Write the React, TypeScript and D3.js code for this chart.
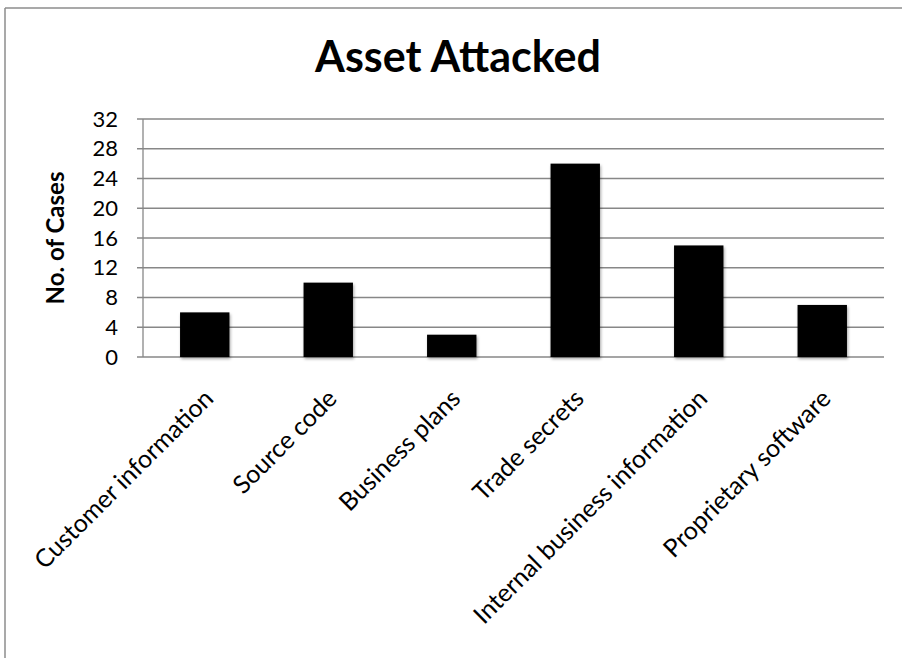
import React from 'react';
import * as d3 from 'd3';

const categories = [
  'Customer information',
  'Source code',
  'Business plans',
  'Trade secrets',
  'Internal business information',
  'Proprietary software',
];
const cases = [6, 10, 3, 26, 15, 7];
const yTicks = [0, 4, 8, 12, 16, 20, 24, 28, 32];

const W = 902;
const H = 658;
const margin = { top: 119, right: 18, bottom: 301, left: 143 };
const FONT = 'Lato, "Open Sans", sans-serif';

const App = () => {
  const innerW = W - margin.left - margin.right;
  const innerH = H - margin.top - margin.bottom;

  const x = d3.scaleBand<string>()
    .domain(categories)
    .range([0, innerW])
    .paddingInner(0.6)
    .paddingOuter(0.3);

  const y = d3.scaleLinear().domain([0, 32]).range([innerH, 0]);

  return (
    <svg width={W} height={H} style={{ position: 'absolute', left: 0, top: 0, background: '#fff' }}>
      <defs>
        <filter id="shadow" x="-20%" y="-20%" width="140%" height="140%">
          <feDropShadow dx="1" dy="2" stdDeviation="1.5" floodColor="#000" floodOpacity="0.35" />
        </filter>
      </defs>

      {/* chart border */}
      <line x1={5} x2={W} y1={8} y2={8} stroke="#8c8c8c" strokeWidth={1.5} />
      <line x1={5} x2={5} y1={8} y2={H} stroke="#8c8c8c" strokeWidth={1.5} />

      <text x={458} y={72} textAnchor="middle" fontFamily={FONT} fontWeight="bold" fontSize={43} fill="#000">
        Asset Attacked
      </text>

      <g transform={`translate(${margin.left},${margin.top})`}>
        {yTicks.map(t => (
          <g key={t}>
            <line x1={-6} x2={innerW} y1={y(t)} y2={y(t)} stroke="#878787" strokeWidth={1.3} />
            <text x={-25} y={y(t)} dy="0.35em" textAnchor="end" fontFamily={FONT} fontSize={22} fill="#000">
              {t}
            </text>
          </g>
        ))}
        <line x1={0} x2={0} y1={0} y2={innerH} stroke="#878787" strokeWidth={1.3} />

        {categories.map((c, i) => (
          <rect
            key={c}
            x={x(c)}
            y={y(cases[i])}
            width={x.bandwidth()}
            height={innerH - y(cases[i])}
            fill="#000"
            filter="url(#shadow)"
          />
        ))}

        {categories.map(c => {
          const cx = (x(c) ?? 0) + x.bandwidth() / 2;
          return (
            <text
              key={c}
              transform={`translate(${cx + 4},${innerH + 37}) rotate(-45)`}
              textAnchor="end"
              dy="0.35em"
              fontFamily={FONT}
              fontSize={25}
              fill="#000"
            >
              {c}
            </text>
          );
        })}

        <text
          transform={`translate(${56 - margin.left},${innerH / 2}) rotate(-90)`}
          textAnchor="middle"
          dy="0.35em"
          fontFamily={FONT}
          fontWeight="bold"
          fontSize={24}
          fill="#000"
        >
          No. of Cases
        </text>
      </g>
    </svg>
  );
};

export default App;
